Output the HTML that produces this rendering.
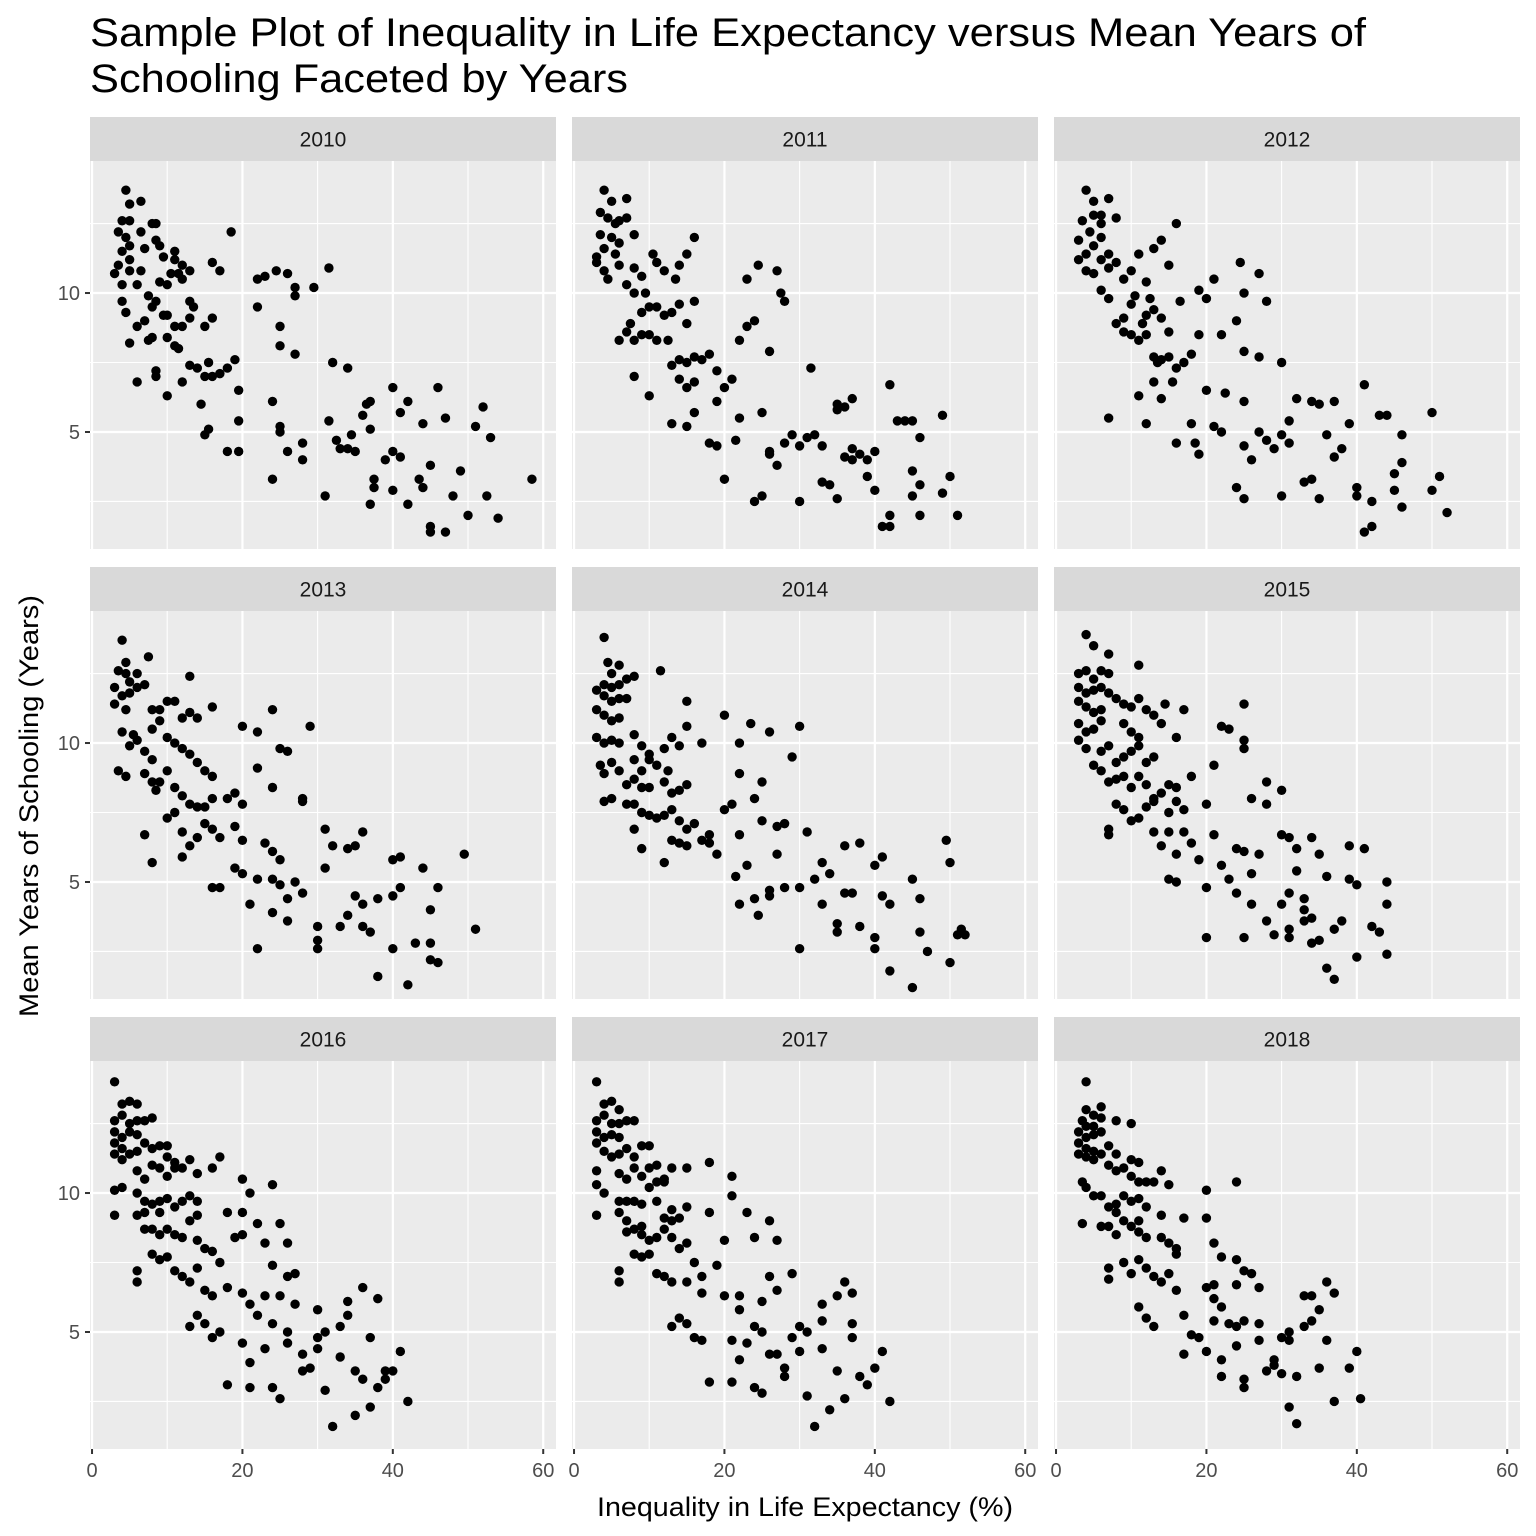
<!DOCTYPE html>
<html><head><meta charset="utf-8">
<style>
html,body{margin:0;padding:0;background:#fff;}
svg{display:block;font-family:"Liberation Sans",Arial,sans-serif;}
</style></head>
<body>
<svg id="chart" width="1536" height="1536" viewBox="0 0 1536 1536" xmlns="http://www.w3.org/2000/svg">
<rect width="1536" height="1536" fill="#fff"/>
<text x="90" y="46" font-size="40" fill="#000" textLength="1276" lengthAdjust="spacingAndGlyphs">Sample Plot of Inequality in Life Expectancy versus Mean Years of</text>
<text x="90" y="92" font-size="40" fill="#000" textLength="538" lengthAdjust="spacingAndGlyphs">Schooling Faceted by Years</text>
<text x="597" y="1516" font-size="27" fill="#000" textLength="416" lengthAdjust="spacingAndGlyphs">Inequality in Life Expectancy (%)</text>
<text transform="translate(38,1017) rotate(-90)" font-size="27" fill="#000" textLength="422" lengthAdjust="spacingAndGlyphs">Mean Years of Schooling (Years)</text>
<g id="panels"></g>
</svg>
<script>
const years = ["2010","2011","2012","2013","2014","2015","2016","2017","2018"];
const xTicks = [0,20,40,60];
const yTicks = [5,10];
const d2010 = [4.5,13.7,5,13.2,6.5,13.3,4,12.6,5,12.6,3.5,12.2,4.5,12,4,11.5,5,11.7,3.5,11,5,11.2,3,10.7,4,10.3,5,10.8,4,9.7,4.5,9.3,5,8.2,6,8.8,6.5,12.2,7,11.6,8,12.5,8.5,12.5,8.5,11.9,9,11.7,9.5,11.3,11,11.5,11,11.2,12,11,13,10.8,10.5,10.7,9,10.4,10,10.3,6,10.3,6.5,10.8,12,10.5,11.5,10.7,18.5,12.2,16,11.1,17,10.8,22,10.5,23,10.6,24.5,10.8,26,10.7,27,10.2,29.5,10.2,31.5,10.9,7.5,9.9,8,9.5,8.5,9.7,9.5,9.2,10,9.2,11,8.8,12,8.8,13,9.7,13.5,9.5,13,9.1,15,8.8,16,9.1,7,9.0,7.5,8.3,8,8.4,10,8.4,11,8.1,11.5,8.0,13,7.4,14,7.3,15,7.0,15.5,7.5,16,7.0,17,7.1,18,7.3,19,7.6,8.5,7.2,8.5,7.0,6,6.8,12,6.8,10,6.3,14.5,6.0,19.5,6.5,15,4.9,15.5,5.1,19.5,5.4,18,4.3,19.5,4.3,22,9.5,25,8.8,25,8.1,27,9.9,27,7.8,24,6.1,25,5.2,25,5.0,26,4.3,28,4.0,28,4.6,24,3.3,31,2.7,32,7.5,34,7.3,31.5,5.4,32.5,4.7,33,4.4,34,4.4,35,4.3,34.5,4.9,36,5.6,36.5,6,37,6.1,37,5.1,37,2.4,37.5,3.0,37.5,3.3,40,6.6,39,4.0,40,4.3,41,4.1,41,5.7,42,6.1,40,2.9,44,3.0,43.5,3.3,45,3.8,44,5.3,46,6.6,47,5.5,45,1.6,45,1.4,47,1.4,48,2.7,42,2.4,49,3.6,50,2.0,51,5.2,52,5.9,52.5,2.7,53,4.8,54,1.9,58.5,3.3];
const d2011 = [4,13.7,5,13.3,7,13.4,3.5,12.9,4.5,12.7,5.5,12.5,6,12.6,3.5,12.1,5,12,4,11.6,5.5,11.4,3,11.1,4,10.8,3,11.3,4.5,10.5,6,11.8,7,12.7,8,12.1,6,11,7,10.3,8,10.9,9,10.6,9.5,10,10.5,11.4,11,11.1,12,10.8,13.5,10.5,14,11,15,11.4,16,12,8,10,9,9.3,10,9.5,11,9.5,12,9.2,13,9.3,14,9.6,15,8.9,16,9.7,6,8.3,7,8.6,7.5,8.9,8,8.3,9,8.5,10,8.5,11,8.3,12.5,8.3,13,7.4,14,7.6,15,7.5,16,7.7,17,7.6,18,7.8,14,6.9,15,6.6,16,6.8,19,7.2,20,6.6,21,6.9,8,7,10,6.3,13,5.3,15,5.2,16,5.7,18,4.6,19,4.5,20,3.3,22,5.5,21.5,4.7,19,6.1,23,8.8,22,8.3,24,9,24.5,11,27,10.8,26,7.9,27.5,10,28,9.7,23,10.5,25,5.7,26,4.3,26,4.2,27,3.8,28,4.6,24,2.5,25,2.7,29,4.9,30,2.5,30,4.5,31,4.8,31.5,7.3,32,4.9,33,4.5,33,3.2,34,3.1,35,6,35,5.8,35,2.6,36,5.9,37,6.2,37,4.4,36,4.1,37,4,38,4.2,39,4.0,39,3.4,42,6.7,40,4.3,40,2.9,41,1.6,42,1.6,42,2.0,43,5.4,44,5.4,45,5.4,45,3.6,45,2.7,46,4.8,46,3.1,46,2.0,49,5.6,49,2.8,50,3.4,51,2.0];
const d2012 = [4,13.7,5,13.3,6,12.8,7,13.4,3.5,12.6,4.5,12.2,5,12.8,6,12.5,3,11.9,4,11.4,5,11.7,6,12,8,12.7,3,11.2,4,10.8,5,10.7,6,11.2,7,11.4,7,10.9,8,11.1,9,10.5,10,10.8,11,11.4,12,10.4,13,11.6,14,11.9,15,11,16,12.5,6,10.1,7,9.8,9,9.1,10,9.6,10.5,9.9,11.5,8.9,12,9.2,12.5,9.8,13,9.4,14,9.1,15,8.6,16.5,9.7,8,8.9,9,8.6,10,8.5,11,8.3,12,8.5,13,7.7,13.5,7.5,14,7.6,15,7.7,16,7.3,17,7.5,18,7.8,19,8.5,20,9.8,21,10.5,19,10.1,22,8.5,24,9.0,24.5,11.1,25,10,27,10.7,28,9.7,30,7.5,25,7.9,27,7.7,7,5.5,11,6.3,12,5.3,13,6.8,14,6.2,15.5,6.8,16,4.6,18,5.3,18.5,4.6,19,4.2,20,6.5,21,5.2,22,5.0,22.5,6.4,24,3.0,25,4.5,25,2.6,25,6.1,26,4.0,27,5.0,28,4.7,29,4.4,30,4.9,30,2.7,31,4.6,31,5.4,32,6.2,33,3.2,34,6.1,34,3.3,35,6.0,35,2.6,36,4.9,37,4.1,37,6.1,38,4.4,39,5.3,40,3.0,40,2.7,41,6.7,41,1.4,42,1.6,42,2.5,43,5.6,44,5.6,45,3.5,45,2.9,46,4.9,46,3.9,46,2.3,50,5.7,50,2.9,51,3.4,52,2.1];
const d2013 = [4,13.7,4.5,12.9,3.5,12.6,4.5,12.5,5,12.2,6,12.5,7.5,13.1,3,12,4,11.7,5,11.8,6,12,3,11.4,4.5,11.2,5.5,10.3,4,10.4,6,10.1,7,9.7,8,9.4,3.5,9.0,4.5,8.8,5,9.9,7,8.9,8,8.6,8.5,8.3,9,8.6,7,12.1,8,11.2,9,11.2,10,11.5,11,11.5,12,10.9,13,11.1,13,12.4,14,10.9,16,11.3,8,10.5,9,10.8,10,10.2,11,10.0,12,9.8,13,9.6,14,9.3,15,9.0,16,8.8,10,9.0,11,8.4,12,8.1,13,7.8,14,7.7,15,7.7,16,8.0,18,8.0,19,8.2,20,7.8,10,7.3,11,7.5,12,6.8,13,6.3,14,6.6,15,7.1,16,6.9,17,6.6,19,7.0,20,6.5,7,6.7,8,5.7,12,5.9,16,4.8,17,4.8,19,5.5,20,5.3,21,4.2,22,5.1,22,2.6,20,10.6,22,10.4,24,8.4,22,9.1,25,9.8,26,9.7,24,11.2,28,7.9,28,8.0,29,10.6,23,6.4,24,6.1,24,5.1,25,4.9,26,4.4,27,5.0,28,4.6,25,5.8,24,3.9,26,3.6,30,2.9,30,2.6,30,3.4,31,6.9,31,5.5,32,6.3,34,3.8,33,3.4,34,6.2,35,6.3,36,6.8,35,4.5,36,4.2,36,3.4,38,4.4,37,3.2,38,1.6,40,5.8,40,4.5,40,2.6,41,5.9,41,4.8,42,1.3,43,2.8,44,5.5,45,2.8,45,4.0,45,2.2,46,4.8,46,2.1,49.5,6.0,51,3.3];
const d2014 = [4,13.8,4.5,12.9,6,12.8,5,12.5,4,12.1,5,12,6,12.1,7,12.3,8,12.4,3,11.9,4,11.7,5,11.5,6,11.6,7,11.6,3,11.2,4,11.0,5,10.8,6,10.9,11.5,12.6,3,10.2,4,10.0,5,10.1,6,10.0,8,10.3,9,9.9,10,9.6,8,9.4,9,9.0,10,9.4,11,9.2,12,9.8,13,10.2,14,9.9,15,11.5,15,10.6,17,10.0,20,11.0,22,10.0,23.5,10.7,26,10.4,3.5,9.2,4,8.9,5,9.3,6,9.0,7,8.5,8,8.7,9,8.4,10,8.4,12,8.6,12.5,9.0,13,8.2,14,8.3,15,8.5,4,7.9,5,8.0,7,7.8,8,7.8,9,7.5,10,7.4,11,7.3,12,7.4,13,7.6,14,7.2,15,6.9,16,7.1,17,6.5,18,6.7,19,6.0,20,7.6,21,7.8,22,8.9,24,8.0,25,8.6,25,7.2,27,7.0,28,7.1,29,9.5,30,10.6,8,6.9,9,6.2,12,5.7,13,6.5,14,6.4,15,6.3,18,6.4,22,6.7,21.5,5.2,22,4.2,23,5.6,24,4.4,24.5,3.8,27,6.0,26,4.5,26,4.7,28,4.8,30,4.8,30,2.6,31,6.8,32,5.1,33,5.7,33,4.2,34,5.3,35,3.5,35,3.2,36,4.6,36,6.3,37,4.6,38,6.4,38,3.4,40,3.0,40,2.6,40,5.6,41,5.9,41,4.5,42,1.8,42,4.2,45,5.1,45,1.2,46,4.4,46,3.2,47,2.5,50,5.7,50,2.1,51,3.1,52,3.1,49.5,6.5,51.5,3.3];
const d2015 = [4,13.9,5,13.5,7,13.2,3,12.5,4,12.6,5,12.3,6,12.6,7,12.5,3,12.0,4,11.8,5,11.9,6,12.0,11,12.8,3,11.5,4,11.3,5,11.1,6,11.2,7,11.8,8,11.6,9,11.4,10,11.3,11,11.6,3,10.7,4,10.4,5,10.5,6,10.8,9,10.7,10,10.4,11,10.2,12,11.2,13,11.0,14,10.7,14.5,11.4,17,11.2,22,10.6,23,10.5,25,11.4,3,10.1,4,9.8,5,9.2,6,9.7,7,9.9,8,9.3,9,9.5,10,9.7,11,9.9,12,9.3,13,9.5,16,10.2,6,9.0,7,8.6,8,8.7,9,8.8,10,8.4,11,8.8,12,8.5,13,8.0,14,8.2,15,8.5,16,8.4,8,7.8,9,7.6,10,7.2,11,7.3,12,7.7,13,7.9,15,7.5,16,7.9,17,7.6,18,8.8,20,7.8,21,9.2,25,9.8,25,10.1,28,8.6,26,8.0,7,6.9,7,6.7,13,6.8,14,6.3,15,6.8,16,6.0,17,6.8,18,6.4,19,5.8,20,4.8,21,6.7,22,5.6,23,5.1,24,6.2,25,6.1,26,5.3,27,6.0,28,7.8,30,8.3,15,5.1,16,5.0,20,3.0,24,4.6,25,3.0,26,4.2,28,3.6,30,6.7,31,6.6,31,4.6,32,6.2,32,5.4,33,4.4,30,4.2,31,3.3,31,3.0,29,3.1,33,3.6,33,4.0,34,3.7,34,2.8,35,2.9,34,6.6,35,6.0,36,5.2,37,3.3,36,1.9,37,1.5,38,3.6,39,6.3,39,5.1,40,4.9,40,2.3,41,6.2,42,3.4,43,3.2,44,4.2,44,5.0,44,2.4];
const d2016 = [3,14.0,4,13.2,5,13.3,6,13.2,3,12.6,4,12.8,5,12.5,6,12.6,7,12.6,3,12.2,4,12.0,5,12.2,6,12.1,3,11.8,4,11.6,5,11.4,8,12.7,3,11.4,4,11.2,6,11.5,7,11.8,8,11.6,9,11.7,10,11.7,10,11.3,11,11.1,6,10.8,7,10.5,8,11.0,9,10.9,10,10.6,11,10.9,12,10.9,13,11.2,14,10.7,16,10.9,17,11.3,20,10.5,3,10.1,4,10.2,6,10.0,7,9.7,8,9.6,9,9.7,10,9.8,11,9.5,12,9.7,13,9.9,14,9.7,3,9.2,6,9.2,7,9.3,9,9.3,13,9.0,14,9.2,18,9.3,20,9.3,22,8.9,21,10.0,24,10.3,25,8.9,26,8.2,7,8.7,8,8.7,9,8.5,10,8.7,11,8.5,12,8.4,14,8.3,15,8.0,16,7.9,17,7.5,19,8.4,20,8.5,23,8.2,24,7.4,27,7.1,6,7.2,6,6.8,8,7.8,9,7.6,10,7.7,11,7.2,12,7.0,13,6.8,14,7.3,15,6.5,16,6.3,18,6.6,20,6.4,21,6.0,22,5.6,23,6.3,26,7.0,25,6.3,13,5.2,14,5.6,15,5.3,16,4.8,17,5.0,20,4.6,21,3.9,18,3.1,21,3.0,23,4.4,24,5.3,24,3.0,25,2.6,26,5.0,26,4.6,27,6.0,28,4.2,28,3.6,29,3.7,30,4.8,30,4.4,30,5.8,31,5.0,31,2.9,32,1.6,33,5.2,33,4.1,34,5.6,34,6.1,35,3.6,35,2.0,36,3.3,36,6.6,37,4.8,37,2.3,38,6.2,38,3.0,39,3.3,39,3.6,40,3.6,41,4.3,42,2.5];
const d2017 = [3,14.0,4,13.2,5,13.3,6,13.0,3,12.6,4,12.8,5,12.5,6,12.5,7,12.6,3,12.2,4,12.0,5,12.1,6,12.0,8,12.6,3,11.8,4,11.5,5,11.3,3,10.8,6,11.4,7,11.6,8,11.3,9,11.7,10,11.7,11,11.0,6,10.7,7,10.5,8,10.9,9,10.6,10,10.9,11,10.4,12,10.5,13,10.9,15,10.9,18,11.1,21,10.6,3,10.3,4,10.0,6,9.7,7,9.7,8,9.7,9,9.6,10,10.2,11,9.7,12,10.4,13,9.4,14,9.1,15,9.5,3,9.2,6,9.3,7,9.0,9,8.8,12,9.1,13,9.0,18,9.3,21,9.9,23,9.3,26,9.0,7,8.6,8,8.7,9,8.5,10,8.3,11,8.4,12,8.7,13,8.4,14,8.0,15,8.2,16,7.5,17,7.0,19,7.4,20,8.3,24,8.4,27,8.3,6,7.2,6,6.8,8,7.8,9,7.7,10,7.8,11,7.1,12,7.0,13,6.8,15,6.8,17,6.4,20,6.3,22,6.3,22,5.8,25,6.1,26,7.0,27,6.5,29,7.1,13,5.2,14,5.5,15,5.3,16,4.8,17,4.7,21,4.7,22,4.0,18,3.2,21,3.2,23,4.6,24,5.2,24,3.0,25,2.8,25,5.0,26,4.2,27,4.2,28,3.7,28,3.4,29,4.8,30,4.3,30,5.2,31,5.0,31,2.7,32,1.6,33,4.4,33,5.4,33,6.0,34,2.2,35,6.3,35,3.6,36,6.8,36,2.6,37,6.4,37,5.3,37,4.8,38,3.4,39,3.1,40,3.7,41,4.3,42,2.5];
const d2018 = [4,14.0,4,13.0,5,12.8,6,13.1,3.5,12.6,4,12.4,5,12.4,6,12.7,3,12.2,4,12.0,5,12.1,6,12.2,8,12.6,3,11.8,4,11.6,5,11.5,6,11.4,3,11.4,4,11.3,5,11.2,7,11.7,8,11.4,10,12.5,10,11.2,11,11.1,7,11.0,8,10.8,9,10.9,10,10.6,11,10.4,14,10.8,15,10.3,12,10.4,13,10.4,20,10.1,24,10.4,3.5,10.4,4,10.2,5,9.9,6,9.9,7,9.5,8,9.6,9,9.9,10,9.7,11,9.8,12,9.5,8,9.3,9,9.0,11,9.0,14,9.2,17,9.1,20,9.1,3.5,8.9,6,8.8,7,8.8,8,8.5,10,8.8,11,8.6,12,8.4,14,8.4,15,8.2,16,7.8,16,8.0,21,8.2,22,7.7,24,7.6,7,7.3,7,6.9,9,7.5,10,7.1,11,7.6,12,7.3,13,7.0,14,6.8,15,7.1,16,6.5,20,6.6,21,6.7,24,6.7,25,7.2,26,7.1,27,6.6,11,5.9,12,5.5,13,5.2,17,5.6,18,4.9,19,4.8,21,5.4,21,6.2,22,5.9,23,5.3,24,5.2,25,5.4,27,5.3,17,4.2,20,4.3,22,4.0,22,3.4,24,4.5,25,3.0,25,3.3,27,4.7,28,3.6,29,3.8,29,4.0,30,3.5,30,4.8,31,5.0,31,4.7,32,3.4,31,2.3,32,1.7,33,5.2,34,5.4,33,6.3,34,6.3,35,5.8,36,4.7,36,6.8,37,6.4,35,3.7,37,2.5,39,3.7,40,4.3,40.5,2.6];
const series = [d2010,d2011,d2012,d2013,d2014,d2015,d2016,d2017,d2018];

const NS = "http://www.w3.org/2000/svg";
const root = document.getElementById("panels");
const PW = 466, PH = 388, SH = 44;
const X0 = 90, Y0 = 117, CS = 482, RS = 450;
const XMIN = -0.27, XMAX = 61.7, YMIN = 0.79, YMAX = 14.75;
function mk(tag, attrs, parent){const e=document.createElementNS(NS,tag);for(const k in attrs)e.setAttribute(k,attrs[k]);parent.appendChild(e);return e;}
function sx(v){return (v-XMIN)/(XMAX-XMIN)*PW;}
function sy(v){return PH-(v-YMIN)/(YMAX-YMIN)*PH;}

years.forEach((yr,i)=>{
  const col=i%3,row=Math.floor(i/3);
  const px=X0+col*CS, py=Y0+row*RS;
  const g=mk("g",{transform:`translate(${px},${py})`},root);
  
  
  const strip=mk("rect",{x:0,y:0,width:PW,height:SH,fill:"#D9D9D9"},g);
  
  
  const st=mk("text",{x:PW/2,y:SH/2+7.5,"font-size":21,"text-anchor":"middle",fill:"#1A1A1A"},g);
  st.textContent=yr;
  
  
  const pg=mk("g",{transform:`translate(0,${SH})`},g);
  const bg=mk("rect",{x:0,y:0,width:PW,height:PH,fill:"#EBEBEB"},pg);
  
  
  [10,30,50].forEach(v=>mk("line",{x1:sx(v),x2:sx(v),y1:0,y2:PH,stroke:"#fff","stroke-width":1.1},pg));
  [2.5,7.5,12.5].forEach(v=>mk("line",{x1:0,x2:PW,y1:sy(v),y2:sy(v),stroke:"#fff","stroke-width":1.1},pg));
  xTicks.forEach(v=>mk("line",{x1:sx(v),x2:sx(v),y1:0,y2:PH,stroke:"#fff","stroke-width":2.2},pg));
  yTicks.forEach(v=>mk("line",{x1:0,x2:PW,y1:sy(v),y2:sy(v),stroke:"#fff","stroke-width":2.2},pg));
  const d=series[i];
  for(let k=0;k<d.length;k+=2){
    const c=mk("circle",{cx:sx(d[k]),cy:sy(d[k+1]),r:4.7,fill:"#000"},pg);
    
    
  }
  if(col===0){
    yTicks.forEach(v=>{
      mk("line",{x1:-5,x2:0,y1:sy(v),y2:sy(v),stroke:"#333","stroke-width":2},pg);
      const t=mk("text",{x:-10,y:sy(v)+7,"font-size":20,"text-anchor":"end",fill:"#4D4D4D"},pg);
      t.textContent=v;
      
      
    });
  }
  if(row===2){
    xTicks.forEach(v=>{
      mk("line",{x1:sx(v),x2:sx(v),y1:PH,y2:PH+5,stroke:"#333","stroke-width":2},pg);
      const t=mk("text",{x:sx(v),y:PH+28,"font-size":20,"text-anchor":"middle",fill:"#4D4D4D"},pg);
      t.textContent=v;
      
      
    });
  }
});
</script>
</body></html>
